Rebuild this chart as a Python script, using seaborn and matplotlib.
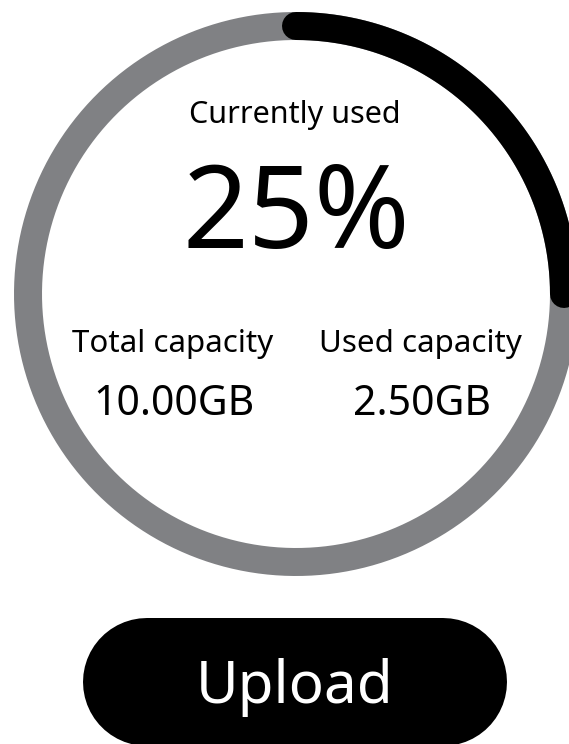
import matplotlib
matplotlib.use("Agg")
import matplotlib.pyplot as plt
import numpy as np
import pandas as pd
import seaborn as sns

# values shown on the card
total_gb = 10.00
used_gb = 2.50
title_label = "Currently used"
left_label = "Total capacity"
right_label = "Used capacity"
button_label = "Upload"

used_frac = used_gb / total_gb

sns.set_theme(style="white")
plt.rcParams["font.family"] = ["Noto Sans", "DejaVu Sans"]

DPI = 100
W, H = 569, 744
fig = plt.figure(figsize=(W / DPI, H / DPI), dpi=DPI)
ax = fig.add_axes([0, 0, 1, 1])

cx, cy, r = 296, 294, 268
ring_lw = 28 * 72 / DPI


def arc(frac, n=400):
    phi = np.linspace(0, 2 * np.pi * frac, n)
    return pd.DataFrame({"x": cx + r * np.sin(phi), "y": cy - r * np.cos(phi)})


sns.lineplot(data=arc(1.0), x="x", y="y", sort=False, estimator=None, ax=ax,
             color="#808184", linewidth=ring_lw, solid_capstyle="butt")
sns.lineplot(data=arc(used_frac), x="x", y="y", sort=False, estimator=None, ax=ax,
             color="#000000", linewidth=ring_lw, solid_capstyle="round")

ax.text(cx - 1, 123, title_label, ha="center", va="baseline", fontsize=22, color="black")
ax.text(cx, 248, f"{used_frac * 100:.0f}%", ha="center", va="baseline", fontsize=83, color="black")
ax.text(173, 352, left_label, ha="center", va="baseline", fontsize=22.5, color="black")
ax.text(420, 352, right_label, ha="center", va="baseline", fontsize=22.5, color="black")
ax.text(174, 415, f"{total_gb:.2f}GB", ha="center", va="baseline", fontsize=29.5, color="black")
ax.text(422, 415, f"{used_gb:.2f}GB", ha="center", va="baseline", fontsize=29.5, color="black")

# pill button: a thick line with round caps (128 px tall, 83..507 wide)
btn = pd.DataFrame({"x": [83 + 64, 507 - 64], "y": [682, 682]})
sns.lineplot(data=btn, x="x", y="y", sort=False, estimator=None, ax=ax,
             color="black", linewidth=128 * 72 / DPI, solid_capstyle="round")
ax.text(295, 703, button_label, ha="center", va="baseline", fontsize=42, color="white")

ax.set_xlim(0, W)
ax.set_ylim(H, 0)
ax.set_axis_off()
fig.savefig("out.png", dpi=DPI)
